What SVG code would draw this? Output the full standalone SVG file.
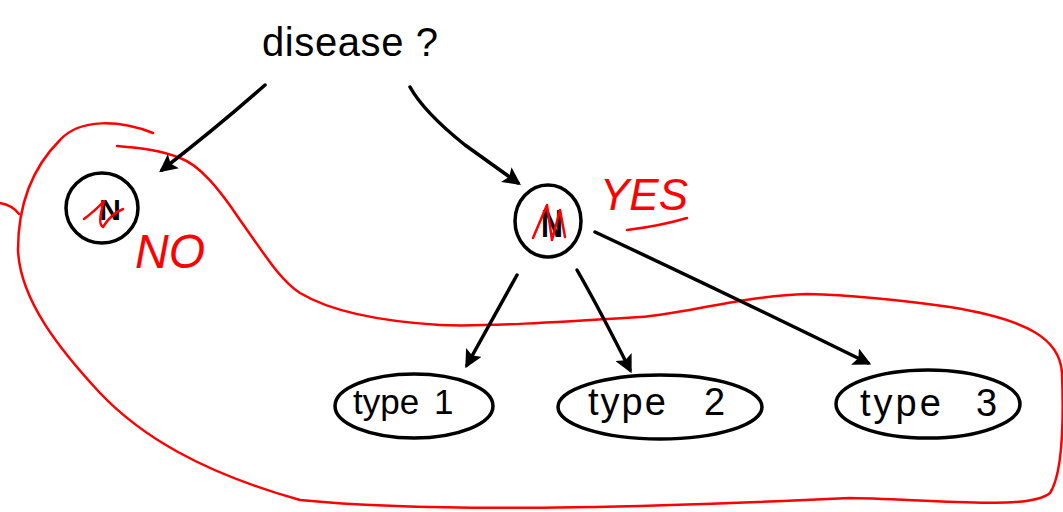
<svg xmlns="http://www.w3.org/2000/svg" width="1063" height="512" viewBox="0 0 1063 512">
<style>
.ink{fill:none;stroke:#000;stroke-width:3.5;stroke-linecap:round;stroke-linejoin:round}
.red{fill:none;stroke:#f00;stroke-width:2.5;stroke-linecap:round;stroke-linejoin:round}
.txt{font-family:"Liberation Sans",Arial,sans-serif;fill:#000}
.rtxt{font-family:"Liberation Sans",Arial,sans-serif;fill:#f00;font-style:italic}
</style>
<defs>
<marker id="ah" viewBox="0 0 10 10" refX="8" refY="5" markerWidth="18" markerHeight="18" markerUnits="userSpaceOnUse" orient="auto">
<path d="M0,0 L10,5 L0,10 L2,5 z" fill="#000"/>
</marker>
</defs>
<rect width="1063" height="512" fill="#fff"/>
<g id="group-loop">
<path class="red" d="M0,203 Q12,205 19,214"/>
<path class="red" d="M153,133 C120,120 80,118 60,140 C35,165 18,200 18,250 C20,300 60,350 100,393 C140,435 200,472 300,500 C450,515 700,505 850,498 C950,500 1030,510 1050,493 C1065,470 1063,400 1062,373 C1060,340 1030,320 950,307 C900,300 850,295 807,294 C740,296 680,315 640,317 C560,322 480,327 440,325 C360,320 320,305 300,293 C280,280 265,255 240,220 C220,190 200,165 180,158 C160,150 140,148 117,146"/>
</g>
<g id="connectors">
<path class="ink" marker-end="url(#ah)" d="M265,85 Q220,125 162,170"/>
<path class="ink" marker-end="url(#ah)" d="M410,87 C420,105 440,125 465,145 L518,183"/>
<path class="ink" marker-end="url(#ah)" d="M517,275 L467,365"/>
<path class="ink" marker-end="url(#ah)" d="M577,270 Q600,310 630,370"/>
<path class="ink" marker-end="url(#ah)" d="M595,232 Q740,300 868,363"/>
</g>
<g id="node-disease">
<text class="txt" x="262" y="56" font-size="40" textLength="176" lengthAdjust="spacing">disease ?</text>
</g>
<g id="node-no">
<ellipse class="ink" cx="102" cy="208" rx="36" ry="35"/>
<text class="txt" x="110" y="220" font-size="30" font-weight="bold" text-anchor="middle">N</text>
<path class="red" d="M84,219 Q96,210 104,201 Q97,224 103,227 Q111,214 123,209"/>
<text class="rtxt" x="135" y="268" font-size="48" textLength="70" lengthAdjust="spacingAndGlyphs">NO</text>
</g>
<g id="node-yes">
<ellipse class="ink" cx="548" cy="221" rx="33" ry="36"/>
<text class="txt" x="552" y="237" font-size="38" font-weight="bold" text-anchor="middle" textLength="22" lengthAdjust="spacingAndGlyphs">N</text>
<path class="red" d="M533,238 L547,205 L552,240 L560,210 L565,237"/>
<text class="rtxt" x="600" y="210" font-size="44" textLength="88" lengthAdjust="spacingAndGlyphs">YES</text>
<path class="red" d="M627,230 Q660,226 687,218"/>
</g>
<g id="node-type1">
<ellipse class="ink" cx="414" cy="406" rx="79" ry="32"/>
<text class="txt" x="353" y="414" font-size="35">type <tspan x="434">1</tspan></text>
</g>
<g id="node-type2">
<ellipse class="ink" cx="660" cy="407" rx="102" ry="32"/>
<text class="txt" x="588" y="415" font-size="38" letter-spacing="2">type <tspan x="704">2</tspan></text>
</g>
<g id="node-type3">
<ellipse class="ink" cx="928" cy="404" rx="92" ry="34"/>
<text class="txt" x="860" y="416" font-size="38" letter-spacing="3">type <tspan x="976">3</tspan></text>
</g>
</svg>
